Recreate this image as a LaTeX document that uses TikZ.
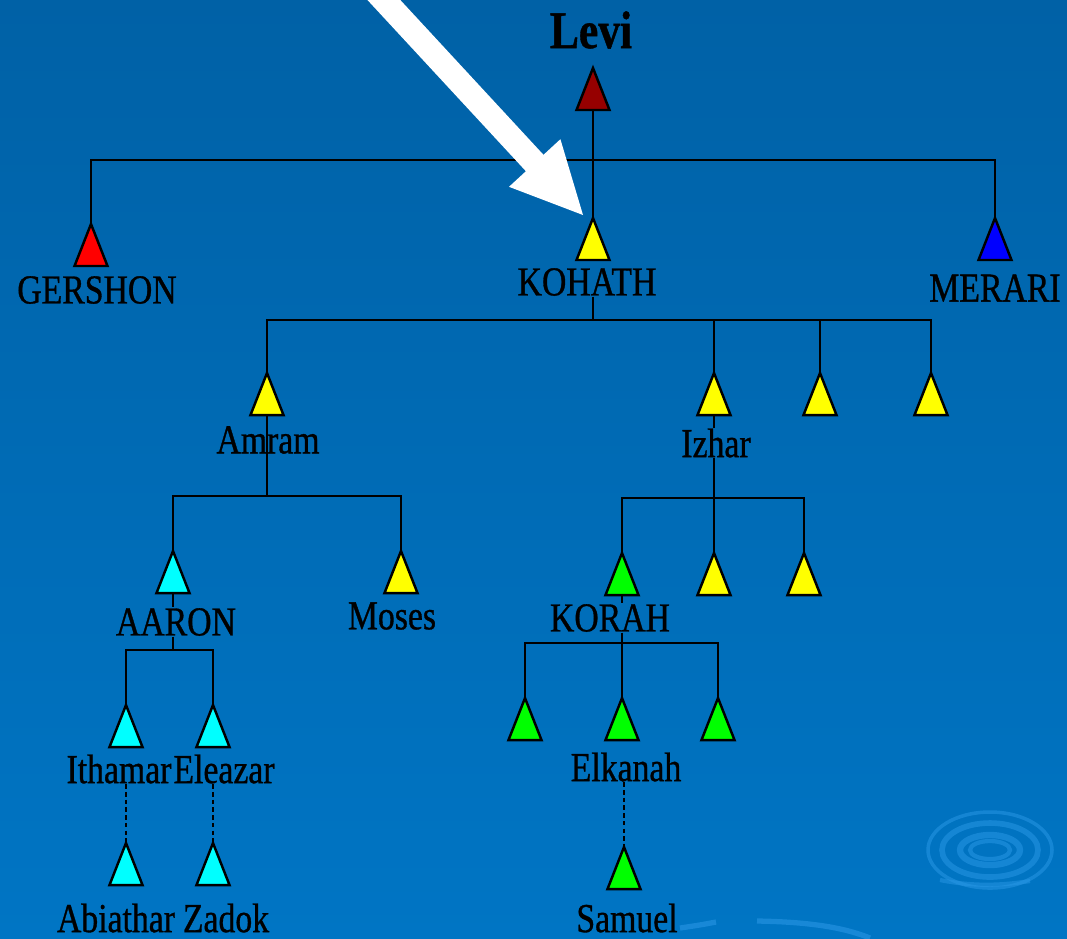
\documentclass[tikz,border=0pt]{standalone}
\usepackage{fontspec}
\newfontfamily\kinfont{Liberation Serif}[FakeStretch=0.82, FakeBold=0.8]
\definecolor{seatop}{RGB}{0,97,166}
\definecolor{seabot}{RGB}{0,117,196}
\definecolor{ripple}{RGB}{40,150,228}
\definecolor{levired}{RGB}{150,0,0}
\definecolor{kinred}{RGB}{255,0,0}
\definecolor{kinblue}{RGB}{0,0,255}
\definecolor{kinyellow}{RGB}{255,255,0}
\definecolor{kincyan}{RGB}{0,255,255}
\definecolor{kingreen}{RGB}{0,255,0}
\tikzset{
  kin/.style={font=\kinfont\fontsize{11.7}{12}\selectfont, inner sep=0pt},
  tree/.style={line width=0.6pt},
  dots/.style={tree, dash pattern=on 1.3pt off 0.9pt},
  tri/.pic={
    \filldraw[fill=#1, draw=black, line width=0.7pt] (0,0) -- (16.5,42) -- (-16.5,42) -- cycle;
    \coordinate (-top) at (0,0);
    \coordinate (-bot) at (0,42);
  },
}
\begin{document}
\begin{tikzpicture}[x=0.01cm, y=-0.01cm]
\useasboundingbox (0,0) rectangle (1067,938);
\clip (0,0) rectangle (1067,938);
\shade[top color=seatop, bottom color=seabot] (0,0) rectangle (1067,938);
% water ripple, bottom right
\foreach \rx/\ry/\w in {20/9/1.2, 30/15/1.8, 48/27/1.6, 62/38/1.0}
{
    \draw[ripple, line width=\w pt, opacity=.55] (990,850) ellipse ({\rx} and {\ry});
}
\draw[ripple, line width=1.5pt, opacity=.6] (680,928) .. controls (700,925) .. (716,922);
\draw[ripple, line width=1.5pt, opacity=.6] (757,921) .. controls (820,922) and (850,930) .. (870,938);
\draw[ripple, line width=1.2pt, opacity=.5] (940,880) .. controls (980,888) and (1010,884) .. (1030,881);
% Levi
\node[kin, font=\kinfont\bfseries\fontsize{15.1}{16}\selectfont] (levi) at (591,30) {Levi};
\pic (lv) at (593,68) {tri=levired};
% sons of Levi
\pic (ge) at (91,224) {tri=kinred};
\pic (ko) at (593,218) {tri=kinyellow};
\pic (me) at (995,218) {tri=kinblue};
\node[kin] (gershon) at (97,290) {GERSHON};
\node[kin] (kohath) at (587,282) {KOHATH};
\node[kin] (merari) at (995,288) {MERARI};
% sons of Kohath
\pic (am) at (267,373) {tri=kinyellow};
\pic (iz) at (714,373) {tri=kinyellow};
\pic (k3) at (820,373) {tri=kinyellow};
\pic (k4) at (931,373) {tri=kinyellow};
\node[kin] (amram) at (268,440) {Amram};
\node[kin] (izhar) at (716,443) {Izhar};
% grandsons
\pic (aa) at (173,551) {tri=kincyan};
\pic (mo) at (401,551) {tri=kinyellow};
\pic (kr) at (622,553) {tri=kingreen};
\pic (i2) at (714,553) {tri=kinyellow};
\pic (i3) at (804,553) {tri=kinyellow};
\node[kin] (aaron) at (176,622) {AARON};
\node[kin] (moses) at (392,616) {Moses};
\node[kin] (korah) at (610,618) {KORAH};
\pic (it) at (126,705) {tri=kincyan};
\pic (el) at (213,705) {tri=kincyan};
\pic (c1) at (525,698) {tri=kingreen};
\pic (ek) at (622,698) {tri=kingreen};
\pic (c3) at (718,698) {tri=kingreen};
\node[kin] (ithamar) at (119,769) {Ithamar};
\node[kin] (eleazar) at (224,769) {Eleazar};
\node[kin] (elkanah) at (626,767) {Elkanah};
\pic (ab) at (126,843) {tri=kincyan};
\pic (za) at (213,843) {tri=kincyan};
\pic (sa) at (624,847) {tri=kingreen};
\node[kin] (abiathar) at (116,918) {Abiathar};
\node[kin] (zadok) at (226,918) {Zadok};
\node[kin] (samuel) at (627,918) {Samuel};
% lines
\coordinate (j1) at (593,160);
\coordinate (j2) at (593,320);
\coordinate (j3) at (267,496);
\coordinate (j4) at (714,498);
\coordinate (j5) at (173,650);
\coordinate (j6) at (622,643);
\draw[tree] (lv-bot) -- (ko-top);
\draw[tree] (ge-top) |- (j1) -| (me-top);
\draw[tree] (j2 |- kohath.south) -- (j2);
\draw[tree] (am-top) |- (j2) -| (k4-top);
\foreach \t in {iz,k3}
{
    \draw[tree] (\t-top) -- (\t-top |- j2);
}
\draw[tree] (am-bot) -- (j3);
\draw[tree] (aa-top) |- (j3) -| (mo-top);
\draw[tree] (iz-bot) -- (iz-bot |- izhar.north);
\draw[tree] (j4 |- izhar.south) -- (j4);
\draw[tree] (kr-top) |- (j4) -| (i3-top);
\draw[tree] (i2-top) -- (j4);
\draw[tree] (aa-bot) -- (aa-bot |- aaron.north);
\draw[tree] (j5 |- aaron.south) -- (j5);
\draw[tree] (it-top) |- (j5) -| (el-top);
\draw[tree] (kr-bot) -- (kr-bot |- korah.north);
\draw[tree] (j6 |- korah.south) -- (j6);
\draw[tree] (c1-top) |- (j6) -| (c3-top);
\draw[tree] (ek-top) -- (j6);
\draw[dots] (ab-top |- ithamar.south) -- (ab-top);
\draw[dots] (za-top |- eleazar.south) -- (za-top);
\draw[dots] (sa-top |- elkanah.south) -- (sa-top);
% white pointer
\fill[white] (373.5,-29) -- (543.5,154.8) -- (560.4,139.2) -- (583,215)
  -- (509,186.8) -- (525.9,171.2) -- (355.9,-12.5) -- cycle;
\end{tikzpicture}
\end{document}
